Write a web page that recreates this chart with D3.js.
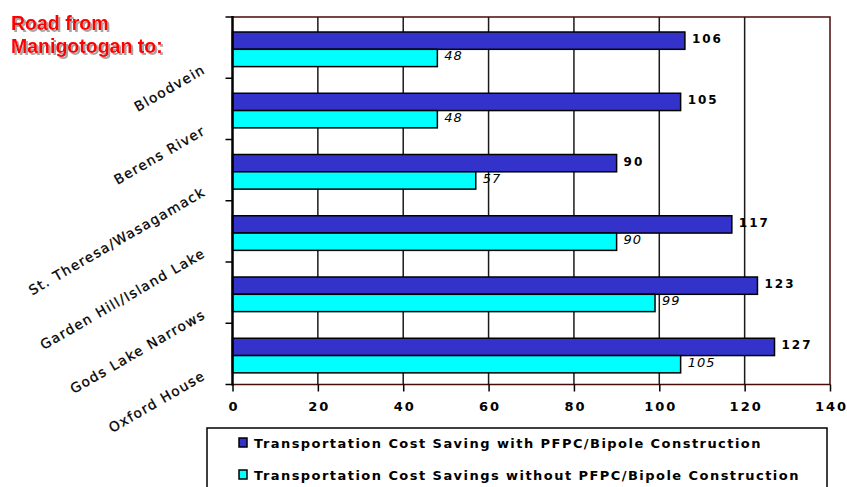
<!DOCTYPE html>
<html>
<head>
<meta charset="utf-8">
<script src="https://cdn.jsdelivr.net/npm/d3@7"></script>
<style>
  body { margin: 0; background: #fff; }
  svg { display: block; }
</style>
</head>
<body>
<svg id="chart" width="847" height="487"></svg>
<script>
const categories = ["Bloodvein", "Berens River", "St. Theresa/Wasagamack", "Garden Hill/Island Lake", "Gods Lake Narrows", "Oxford House"];
const withPFPC = [106, 105, 90, 117, 123, 127];
const withoutPFPC = [48, 48, 57, 90, 99, 105];
const seriesNames = ["Transportation Cost Saving with PFPC/Bipole Construction", "Transportation Cost Savings without PFPC/Bipole Construction"];
const xTicks = [0, 20, 40, 60, 80, 100, 120, 140];
const titleLines = ["Road from", "Manigotogan to:"];

(function () {
    const colors = ["#3333cc", "#00ffff"];
    const font = "Verdana, 'DejaVu Sans', sans-serif";

    const svg = d3.select("svg#chart");
    const plotLeft = 232.5, plotRight = 830, plotTop = 17, plotBottom = 384.5;

    const x = d3.scaleLinear().domain([0, 140]).range([plotLeft, plotRight]);
    const y = d3.scaleBand().domain(categories).range([plotTop, plotBottom]).padding(0);
    const bw = y.bandwidth();
    const inner = d3.scaleBand().domain([0, 1]).range([bw * 0.245, bw * 0.81]).padding(0);

    // soft grey shadow for the title
    svg.append("defs").append("filter").attr("id", "shadow")
        .attr("x", "-10%").attr("y", "-20%").attr("width", "130%").attr("height", "150%")
        .append("feDropShadow")
        .attr("dx", 2).attr("dy", 2).attr("stdDeviation", 0.6)
        .attr("flood-color", "#888").attr("flood-opacity", 0.75);

    svg.append("g").attr("filter", "url(#shadow)")
        .selectAll("text").data(titleLines).join("text")
        .attr("x", 11).attr("y", (d, i) => 30 + i * 23)
        .attr("fill", "#ff0000").attr("font-family", "Arial, 'Liberation Sans', sans-serif")
        .attr("font-weight", "bold").attr("font-size", 19.5)
        .text(d => d);

    // gridlines
    svg.append("g").selectAll("line").data(xTicks.slice(1, -1)).join("line")
        .attr("x1", d => x(d)).attr("x2", d => x(d))
        .attr("y1", plotTop).attr("y2", plotBottom)
        .attr("stroke", "#1a1a1a").attr("stroke-width", 1.5);

    // bars
    const data = categories.map((c, i) => ({ c, vals: [withPFPC[i], withoutPFPC[i]] }));
    const groups = svg.append("g").selectAll("g").data(data).join("g")
        .attr("transform", d => `translate(0,${y(d.c)})`);

    groups.selectAll("rect").data(d => d.vals.map((v, s) => ({ v, s }))).join("rect")
        .attr("x", x(0))
        .attr("y", d => inner(d.s))
        .attr("width", d => x(d.v) - x(0))
        .attr("height", inner.bandwidth())
        .attr("fill", d => colors[d.s])
        .attr("stroke", "#000").attr("stroke-width", 1.5);

    groups.selectAll("text").data(d => d.vals.map((v, s) => ({ v, s }))).join("text")
        .attr("x", d => x(d.v) + 7)
        .attr("y", d => inner(d.s) + inner.bandwidth() / 2 - 1)
        .attr("dominant-baseline", "middle")
        .attr("font-family", font)
        .attr("font-size", d => d.s === 0 ? 12 : 13)
        .attr("font-weight", d => d.s === 0 ? "bold" : "normal")
        .attr("font-style", d => d.s === 0 ? "normal" : "italic")
        .attr("letter-spacing", d => d.s === 0 ? 2 : 1)
        .attr("fill", "#000")
        .text(d => d.v);

    // frame: top/right/bottom maroon
    svg.append("path")
        .attr("d", `M${plotLeft},${plotTop}H${plotRight}V${plotBottom}H${plotLeft}`)
        .attr("fill", "none").attr("stroke", "#4a0a0a").attr("stroke-width", 1.5);

    // x axis ticks + labels
    const xAxis = svg.append("g").attr("transform", `translate(0,${plotBottom})`)
        .call(d3.axisBottom(x).tickValues(xTicks).tickSize(7).tickPadding(10));
    xAxis.select(".domain").remove();
    xAxis.selectAll("line").attr("stroke", "#000").attr("stroke-width", 1.5);
    xAxis.selectAll("text")
        .attr("font-family", font).attr("font-size", 13).attr("font-weight", "bold")
        .attr("letter-spacing", 2).attr("dx", 1).attr("fill", "#000");

    // y axis
    const yTickPos = categories.map(c => y(c)).concat([plotBottom]);
    svg.append("g").selectAll("line").data(yTickPos).join("line")
        .attr("x1", plotLeft - 7).attr("x2", plotLeft).attr("y1", d => d).attr("y2", d => d)
        .attr("stroke", "#000").attr("stroke-width", 1.5);
    svg.append("line").attr("x1", plotLeft).attr("x2", plotLeft).attr("y1", plotTop - 1).attr("y2", plotBottom + 1)
        .attr("stroke", "#000").attr("stroke-width", 2.5);

    // category labels, rotated
    svg.append("g").selectAll("text").data(categories).join("text")
        .attr("transform", d => `translate(206.5,${y(d) + bw - 6}) rotate(-30)`)
        .attr("text-anchor", "end")
        .attr("font-family", font).attr("font-size", 13.5)
        .attr("letter-spacing", 1.4)
        .attr("stroke", "#000").attr("stroke-width", 0.3)
        .attr("fill", "#000")
        .text(d => d);

    // legend
    svg.append("rect").attr("x", 207).attr("y", 428).attr("width", 620).attr("height", 80)
        .attr("fill", "#fff").attr("stroke", "#000").attr("stroke-width", 1.5);
    const leg = svg.append("g").selectAll("g").data(seriesNames).join("g")
        .attr("transform", (d, i) => `translate(239,${438 + i * 32})`);
    leg.append("rect").attr("x", 0).attr("y", 0).attr("width", 8).attr("height", 9)
        .attr("fill", (d, i) => colors[i]).attr("stroke", "#000").attr("stroke-width", 1.5);
    leg.append("text").attr("x", 15).attr("y", 10)
        .attr("font-family", font).attr("font-size", 13).attr("font-weight", "bold")
        .attr("letter-spacing", 1.45).attr("fill", "#000")
        .text(d => d);
})();
</script>
</body>
</html>
